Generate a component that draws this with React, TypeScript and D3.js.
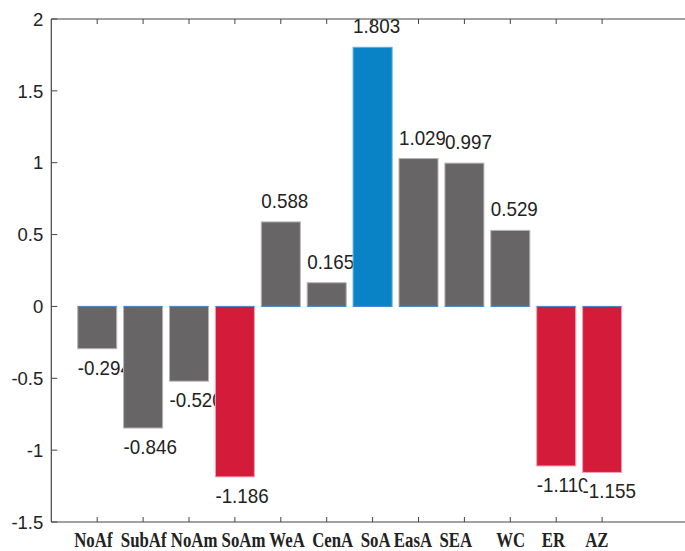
import { useEffect, useRef } from 'react'
import * as d3 from 'd3'

const categories = ['NoAf', 'SubAf', 'NoAm', 'SoAm', 'WeA', 'CenA', 'SoA', 'EasA', 'SEA', 'WC', 'ER', 'AZ']
const values = [-0.294, -0.846, -0.52, -1.186, 0.588, 0.165, 1.803, 1.029, 0.997, 0.529, -1.11, -1.155]
const groups = ['gray', 'gray', 'gray', 'red', 'gray', 'gray', 'blue', 'gray', 'gray', 'gray', 'red', 'red']
const yTicks = [-1.5, -1, -0.5, 0, 0.5, 1, 1.5, 2]
// the category names under the axis were typed as one spaced-out line in the original
const labelGaps = [2, 1, 1, 1, 2, 2, 1, 2, 6, 4, 5]

const fills: Record<string, string> = { gray: '#676565', red: '#d41c3a', blue: '#0a82c6' }
const edges: Record<string, string> = { gray: '#b4b4b4', red: '#f0a0b0', blue: '#5aaee0' }

const W = 685
const H = 551

export default function App() {
  const svgRef = useRef<SVGSVGElement>(null)

  useEffect(() => {
    if (!svgRef.current) return
    const svg = d3.select(svgRef.current)
    svg.selectAll('*').remove()

    const x = d3.scaleLinear().domain([0, 14]).range([51.3, 51.3 + 14 * 45.9])
    const y = d3.scaleLinear().domain([-1.5, 2]).range([522, 19])
    const barW = x(0.85) - x(0)

    const font = '"Liberation Sans", Arial, sans-serif'
    const fmt = (v: number) => d3.format('.3f')(v).replace('\u2212', '-')

    // bars with labels, drawn in order so later bars cover earlier labels
    values.forEach((v, i) => {
      const cx = x(i + 1)
      const g = svg.append('g')
      const top = Math.min(y(v), y(0))
      const h = Math.abs(y(v) - y(0))
      g.append('rect')
        .attr('x', cx - barW / 2)
        .attr('y', top)
        .attr('width', barW)
        .attr('height', h)
        .attr('fill', fills[groups[i]])
        .attr('stroke', edges[groups[i]])
        .attr('stroke-width', 1)
      g.append('line')
        .attr('x1', cx - barW / 2)
        .attr('x2', cx + barW / 2)
        .attr('y1', y(0))
        .attr('y2', y(0))
        .attr('stroke', '#3f86cc')
        .attr('stroke-width', 1)

      const ty = v >= 0 ? y(v) - 14 : y(v) + 26
      const lg = g.append('g').attr('transform', `translate(${cx - barW / 2},${ty}) scale(0.94,1)`)
      const t = lg.append('text')
        .attr('font-family', font)
        .attr('font-size', 20)
        .attr('fill', '#222')
        .text(fmt(v))
      const bb = (t.node() as SVGTextElement).getBBox()
      lg.insert('rect', 'text')
        .attr('x', bb.x)
        .attr('y', bb.y + 2)
        .attr('width', bb.width)
        .attr('height', bb.height - 3)
        .attr('fill', 'white')
    })

    // axes lines
    const axis = svg.append('g').attr('stroke', '#444').attr('stroke-width', 1.2)
    axis.append('line').attr('x1', x(0)).attr('x2', x(14)).attr('y1', y(2)).attr('y2', y(2))
    axis.append('line').attr('x1', x(0)).attr('x2', x(14)).attr('y1', y(-1.5)).attr('y2', y(-1.5))
    axis.append('line').attr('x1', x(0)).attr('x2', x(0)).attr('y1', y(2)).attr('y2', y(-1.5))

    // left ticks
    yTicks.forEach(t => {
      svg.append('line')
        .attr('x1', x(0)).attr('x2', x(0) + 6).attr('y1', y(t)).attr('y2', y(t))
        .attr('stroke', '#444')
      svg.append('text')
        .attr('x', x(0) - 8)
        .attr('y', y(t))
        .attr('dy', '0.36em')
        .attr('text-anchor', 'end')
        .attr('font-family', font)
        .attr('font-size', 18.5)
        .attr('fill', '#222')
        .text(String(t))
    })

    // top and bottom ticks at bar centres
    categories.forEach((_, i) => {
      const px = x(i + 1)
      svg.append('line')
        .attr('x1', px).attr('x2', px).attr('y1', y(2)).attr('y2', y(2) + 5)
        .attr('stroke', '#444')
      svg.append('line')
        .attr('x1', px).attr('x2', px).attr('y1', y(-1.5)).attr('y2', y(-1.5) - 5)
        .attr('stroke', '#444')
    })

    // category line under the axis
    const line = categories.map((c, i) => c + (i < labelGaps.length ? ' '.repeat(labelGaps[i]) : '')).join('')
    svg.append('text')
      .attr('transform', `translate(${x(0.5)},${y(-1.5) + 25}) scale(0.84,1)`)
      .attr('font-family', '"Liberation Serif", "Times New Roman", serif')
      .attr('font-weight', 'bold')
      .attr('font-size', 20)
      .attr('fill', '#222')
      .style('white-space', 'pre')
      .text(line)
  }, [])

  return (
    <div style={{ position: 'absolute', left: 0, top: 0 }}>
      <svg ref={svgRef} width={W} height={H} style={{ display: 'block', background: 'white' }} />
    </div>
  )
}
